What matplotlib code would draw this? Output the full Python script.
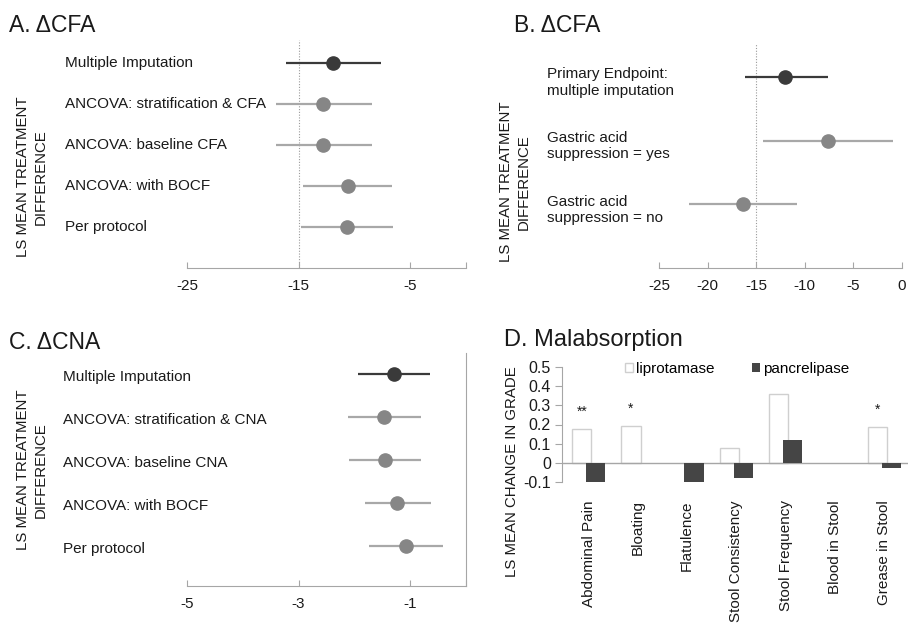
import numpy as np
import matplotlib as mpl
mpl.use('Agg')
import matplotlib.pyplot as plt
from matplotlib.transforms import blended_transform_factory

plt.rcParams['font.family'] = ['Liberation Sans', 'DejaVu Sans']

# panel A: change in CFA, sensitivity analyses
a_labels = ['Multiple Imputation', 'ANCOVA: stratification & CFA',
            'ANCOVA: baseline CFA', 'ANCOVA: with BOCF', 'Per protocol']
a_est = [-11.9, -12.8, -12.8, -10.6, -10.7]
a_low = [-16.1, -17.0, -17.0, -14.6, -14.8]
a_high = [-7.6, -8.4, -8.4, -6.6, -6.5]
a_ticks = [-25, -15, -5, 0]
a_ticklabels = ['-25', '-15', '-5', '']

# panel B: change in CFA by gastric acid suppression
b_labels = ['Primary Endpoint:\nmultiple imputation',
            'Gastric acid\nsuppression = yes',
            'Gastric acid\nsuppression = no']
b_est = [-12.0, -7.6, -16.4]
b_low = [-16.2, -14.3, -21.9]
b_high = [-7.6, -0.9, -10.8]
b_ticks = [-25, -20, -15, -10, -5, 0]
b_ticklabels = ['-25', '-20', '-15', '-10', '-5', '0']

# panel C: change in CNA
c_labels = ['Multiple Imputation', 'ANCOVA: stratification & CNA',
            'ANCOVA: baseline CNA', 'ANCOVA: with BOCF', 'Per protocol']
c_est = [-1.29, -1.47, -1.45, -1.24, -1.08]
c_low = [-1.93, -2.11, -2.10, -1.81, -1.74]
c_high = [-0.64, -0.81, -0.81, -0.63, -0.42]
c_ticks = [-5, -3, -1, 0]
c_ticklabels = ['-5', '-3', '-1', '']

# panel D: malabsorption symptoms
d_cats = ['Abdominal Pain', 'Bloating', 'Flatulence', 'Stool Consistency',
          'Stool Frequency', 'Blood in Stool', 'Grease in Stool']
d_lipro = [0.174, 0.193, 0.0, 0.075, 0.361, 0.0, 0.188]
d_pancre = [-0.10, 0.0, -0.10, -0.078, 0.118, 0.0, -0.026]
d_stars = ['**', '*', '', '', '', '', '*']
d_yticks = [-0.1, 0, 0.1, 0.2, 0.3, 0.4, 0.5]
d_yticklabels = ['-0.1', '0', '0.1', '0.2', '0.3', '0.4', '0.5']

DARK = '#3a3a3a'
GRAY_DOT = '#868686'
GRAY_LINE = '#a8a8a8'
AXIS = '#a6a6a6'
TXT = '#1a1a1a'
W, H = 908, 624


def box(left, top, right, bottom):
    # pixel box -> figure fraction rect
    return [left / W, 1 - bottom / H, (right - left) / W, (bottom - top) / H]


def forest(ax, labels, est, low, high, ticks, ticklabels, xlim, ylim,
           label_x, label_dy=0, refline=None):
    n = len(labels)
    ys = np.arange(n, 0, -1)
    for i in range(n):
        lc = DARK if i == 0 else GRAY_LINE
        dc = DARK if i == 0 else GRAY_DOT
        ax.plot([low[i], high[i]], [ys[i], ys[i]], color=lc, lw=1.6,
                solid_capstyle='butt', zorder=2)
        ax.plot(est[i], ys[i], 'o', color=dc, ms=9.5, zorder=3)
    trans = blended_transform_factory(ax.transAxes, ax.transData)
    for y, lab in zip(ys, labels):
        ax.text(label_x, y - label_dy, lab, transform=trans, ha='left',
                va='center', fontsize=11, color=TXT, linespacing=1.2)
    if refline is not None:
        ax.axvline(refline, color='#9a9a9a', ls=(0, (1, 1.5)), lw=0.8,
                   zorder=1)
    ax.set_xlim(*xlim)
    ax.set_ylim(*ylim)
    ax.set_yticks([])
    for s in ['top', 'right', 'left']:
        ax.spines[s].set_visible(False)
    ax.spines['bottom'].set_color(AXIS)
    ax.set_xticks(ticks)
    ax.set_xticklabels(ticklabels)
    ax.tick_params(axis='x', direction='in', length=4, color=AXIS,
                   labelsize=11, labelcolor=TXT, pad=8)


fig = plt.figure(figsize=(9.08, 6.24), dpi=100)

# A
axA = fig.add_axes(box(187, 40, 466, 268))
forest(axA, a_labels, a_est, a_low, a_high, a_ticks, a_ticklabels,
       (-25, 0), (0, 5.55), (65 - 187) / 279, refline=-15)
fig.text(9 / W, 1 - 25 / H, 'A. ΔCFA', fontsize=16.5, va='center',
         color=TXT)
fig.text(32 / W, 1 - 177 / H, 'LS MEAN TREATMENT\nDIFFERENCE', rotation=90,
         ha='center', va='center', fontsize=10.8, color=TXT,
         multialignment='center', linespacing=1.3)

# B
axB = fig.add_axes(box(659, 43, 902, 268))
forest(axB, b_labels, b_est, b_low, b_high, b_ticks, b_ticklabels,
       (-25, 0), (0, 3.53), (547 - 659) / 243, label_dy=0.09, refline=-15)
fig.text(514 / W, 1 - 25 / H, 'B. ΔCFA', fontsize=16.5, va='center',
         color=TXT)
fig.text(515 / W, 1 - 182 / H, 'LS MEAN TREATMENT\nDIFFERENCE', rotation=90,
         ha='center', va='center', fontsize=10.8, color=TXT,
         multialignment='center', linespacing=1.3)

# C
axC = fig.add_axes(box(187, 353, 466, 586))
forest(axC, c_labels, c_est, c_low, c_high, c_ticks, c_ticklabels,
       (-5, 0), (0.07, 5.5), (63 - 187) / 279, label_dy=0.06)
axC.spines['right'].set_visible(True)
axC.spines['right'].set_color(AXIS)
fig.text(9 / W, 1 - 342 / H, 'C. ΔCNA', fontsize=16.5, va='center',
         color=TXT)
fig.text(32 / W, 1 - 470 / H, 'LS MEAN TREATMENT\nDIFFERENCE', rotation=90,
         ha='center', va='center', fontsize=10.8, color=TXT,
         multialignment='center', linespacing=1.3)

# D
axD = fig.add_axes(box(562, 367, 908, 482))
x = np.arange(len(d_cats))
bw = 0.39
off = 0.14
# zero-valued bars are not drawn (nan) so no stray edge shows on the axis
lipro = np.where(np.array(d_lipro) == 0, np.nan, d_lipro)
pancre = np.where(np.array(d_pancre) == 0, np.nan, d_pancre)
axD.bar(x - off, lipro, bw, color='white', edgecolor='#cfcfcf', lw=1.0,
        label='liprotamase', zorder=2)
axD.bar(x + off, pancre, bw, color='#454545', lw=0,
        label='pancrelipase', zorder=3)
for xi, v, s in zip(x, d_lipro, d_stars):
    if s:
        axD.text(xi - off, v + 0.09, s, ha='center', va='center',
                 fontsize=10, color=TXT)
axD.axhline(0, color=AXIS, lw=1.0, zorder=2.5)
axD.set_xlim(-0.54, 6.48)
axD.set_ylim(-0.1, 0.5)
axD.set_yticks(d_yticks)
axD.set_yticklabels(d_yticklabels)
axD.set_xticks(x)
axD.set_xticklabels(d_cats, rotation=90, va='top', ha='center')
for s in ['top', 'right', 'bottom']:
    axD.spines[s].set_visible(False)
axD.spines['left'].set_color(AXIS)
axD.tick_params(axis='y', direction='out', length=5, color=AXIS,
                labelsize=11.5, labelcolor=TXT, pad=3)
axD.tick_params(axis='x', length=0, labelsize=11, labelcolor=TXT, pad=13)
fig.text(504 / W, 1 - 340 / H, 'D. Malabsorption', fontsize=17,
         va='center', color=TXT)
fig.text(512 / W, 1 - 472 / H, 'LS MEAN CHANGE IN GRADE', rotation=90,
         ha='center', va='center', fontsize=10.8, color=TXT)
fig.legend(loc='center left', bbox_to_anchor=(625 / W, 1 - 369 / H),
           ncol=2, frameon=False, fontsize=11, handlelength=0.55,
           handleheight=0.55, handletextpad=0.2, columnspacing=2.4,
           borderpad=0, borderaxespad=0)

fig.savefig('out.png', dpi=100)
